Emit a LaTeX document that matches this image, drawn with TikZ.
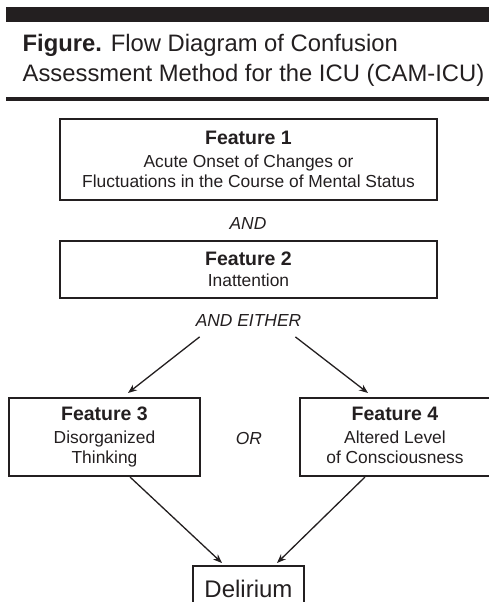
\documentclass[tikz,border=0pt]{standalone}
\usepackage{fontspec}
\setmainfont{Liberation Sans}
\usepackage{xcolor}
\usepackage{tikz}
\usetikzlibrary{positioning, arrows.meta}

\definecolor{ink}{HTML}{231F20}

\begin{document}
\begin{tikzpicture}[x=1pt, y=-1pt, ink,
        featbox/.style={draw=ink, line width=2pt, align=center, inner sep=0pt,
            font=\fontsize{17.4}{20.5}\selectfont},
        joinword/.style={inner sep=2pt, font=\fontsize{17.4}{20.5}\selectfont\itshape},
        flow/.style={-{Stealth[length=9pt, width=7pt]}, line width=1.3pt}]
        \useasboundingbox (0,0) rectangle (489,602);
        \clip (0,0) rectangle (489,602);

        % Heading
        \fill (6,7.3) rectangle (489,22);
        \node[anchor=north west, align=left, inner sep=0pt,
            font=\fontsize{23.8}{29.5}\selectfont] (title) at (22.5,34.5)
            {\textbf{Figure.} Flow Diagram of Confusion\\Assessment Method for the ICU (CAM-ICU)};
        \fill (6,97.3) rectangle (489,100.7);

        % Features
        \node[featbox, minimum width=377pt, minimum height=81pt] (feat1) at (248.5,159.5)
            {\textbf{\fontsize{19.5}{20.5}\selectfont Feature 1}\\[2.5pt]
             Acute Onset of Changes or\\Fluctuations in the Course of Mental Status};
        \node[joinword] (and) at (248,224) {AND};
        \node[featbox, minimum width=377pt, minimum height=57pt] (feat2) at (248.5,269.5)
            {\textbf{\fontsize{19.5}{20.5}\selectfont Feature 2}\\Inattention};
        \node[joinword] (either) at (248.5,321) {AND EITHER};

        \node[featbox, minimum width=191pt, minimum height=78pt] (feat3) at (104.5,437)
            {\textbf{\fontsize{19.5}{20.5}\selectfont Feature 3}\\[2.5pt]Disorganized\\Thinking};
        \node[joinword] (or) at (249,439) {OR};
        \node[featbox, minimum width=191pt, minimum height=78pt] (feat4) at (395,437)
            {\textbf{\fontsize{19.5}{20.5}\selectfont Feature 4}\\[2.5pt]Altered Level\\of Consciousness\vphantom{g}};

        % Outcome
        \node[draw=ink, line width=2pt, anchor=north, minimum width=111pt, minimum height=46pt,
            font=\fontsize{24}{28}\selectfont] (delirium) at (248.5,565) {Delirium};

        % Arrows
        \draw[flow] ([xshift=6pt, yshift=-7.7pt]either.south west) -- ([xshift=23.5pt, yshift=4pt]feat3.north);
        \draw[flow] ([xshift=-8pt, yshift=-7.7pt]either.south east) -- ([xshift=-27pt, yshift=4pt]feat4.north);
        \draw[flow] ([xshift=25.5pt]feat3.south) -- ([xshift=-26.5pt, yshift=2pt]delirium.north);
        \draw[flow] ([xshift=-30pt]feat4.south) -- ([xshift=28.5pt, yshift=2pt]delirium.north);
\end{tikzpicture}
\end{document}
